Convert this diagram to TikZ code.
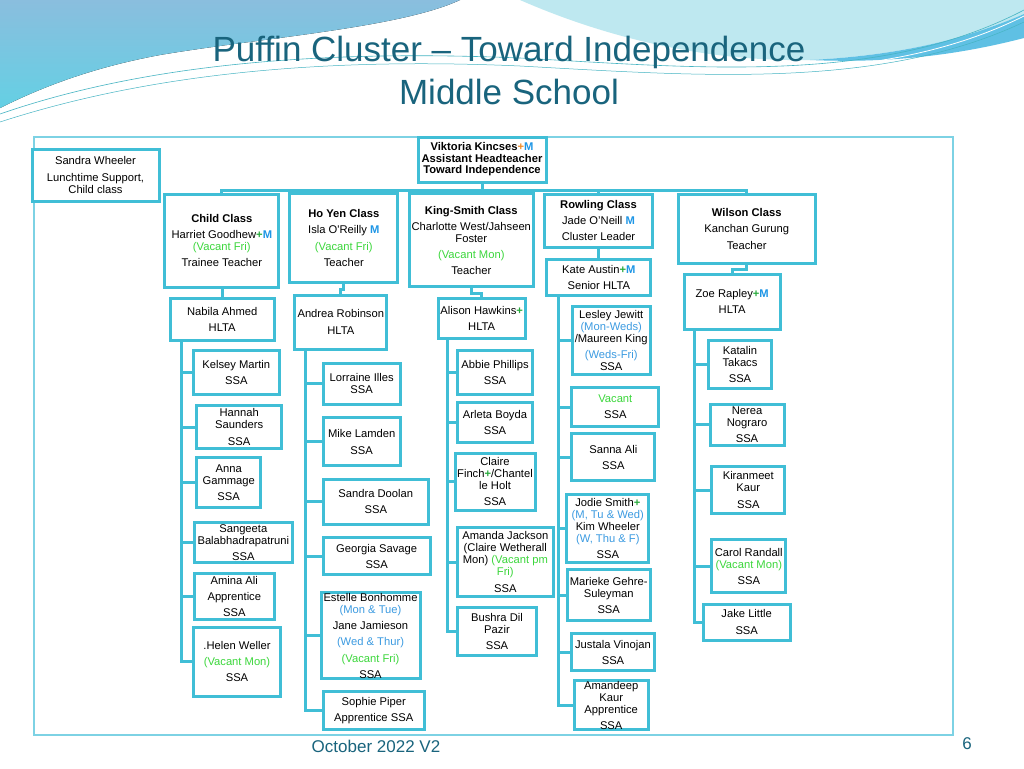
\documentclass[tikz,border=0pt]{standalone}
\usepackage{fontspec}
\setmainfont{Liberation Sans}

\definecolor{boxblue}{RGB}{64,190,214}
\definecolor{framecyan}{RGB}{125,210,228}
\definecolor{titleteal}{RGB}{25,100,125}
\definecolor{vacgreen}{RGB}{60,215,60}
\definecolor{dayblue}{RGB}{60,155,225}
\definecolor{mblue}{RGB}{30,150,230}
\definecolor{plusgreen}{RGB}{40,170,60}
\definecolor{plusorange}{RGB}{240,140,40}
\definecolor{wavetop}{RGB}{138,190,222}
\definecolor{wavelow}{RGB}{100,208,228}
\definecolor{wavelight}{RGB}{190,232,240}
\definecolor{waveblue}{RGB}{95,192,228}
\definecolor{waveline}{RGB}{70,180,195}

\newcommand{\vacnote}[1]{\textcolor{vacgreen}{#1}}
\newcommand{\daynote}[1]{\textcolor{dayblue}{#1}}
\newcommand{\plusmark}{\textbf{\textcolor{plusgreen}{+}}}
\newcommand{\mmark}{\textbf{\textcolor{mblue}{M}}}

\tikzstyle{link} = [draw=boxblue, line width=3pt, line cap=rect]
\tikzstyle{every post} = [draw=boxblue, line width=3pt, fill=white, inner sep=0pt, align=center, font=\fontsize{11.2}{12}\selectfont]
\tikzstyle{staff} = [rectangle, every post]
\tikzset{boxsize/.style 2 args={minimum width=#1pt, minimum height=#2pt}}

\begin{document}
\begin{tikzpicture}[x=1pt, y=-1pt, every edge/.style={link},
  drop/.style={to path={(\tikztostart) -- (\tikztostart |- \tikztotarget)}},
  tick/.style={to path={(\tikztostart) -- (\tikztostart -| \tikztotarget)}},
  jog/.style={to path={(\tikztostart) |- ([yshift=-5pt]\tikztotarget) -| (\tikztotarget)}}]

\useasboundingbox (0,0) rectangle (1024,768);
\fill[white] (0,0) rectangle (1024,768);

% Background waves

\fill[top color=wavetop, bottom color=wavelow] (0,0) -- (460,0) .. controls (400,28) and (260,38) .. (160,55) .. controls (90,68) and (40,88) .. (0,108) -- cycle;
\fill[wavelight] (520,0) -- (1024,0) -- (1024,14) .. controls (960,42) and (890,56) .. (810,60) .. controls (700,62) and (600,35) .. (520,0) -- cycle;
\fill[waveblue] (1024,14) .. controls (960,42) and (890,56) .. (810,60) .. controls (900,64) and (970,52) .. (1024,38) -- cycle;
\draw[waveline, line width=0.6pt] (0,114) .. controls (150,62) and (330,50) .. (520,58) .. controls (700,68) and (880,85) .. (1024,10);
\draw[white, line width=0.8pt] (0,118) .. controls (150,66) and (330,54) .. (520,62) .. controls (700,72) and (880,88) .. (1024,16);
\draw[waveline, line width=0.5pt] (0,122) .. controls (160,70) and (340,58) .. (520,66) .. controls (700,76) and (880,90) .. (1024,22);

% Title

\node[font=\fontsize{35}{42}\selectfont, text=titleteal, anchor=base] (title) at (509,62) {Puffin Cluster -- Toward Independence};
\node[font=\fontsize{35}{42}\selectfont, text=titleteal, anchor=base] (subtitle) at (509,104) {Middle School};

\draw[framecyan, line width=1.5pt] (34,137) rectangle (953,735);

% Head of department

\coordinate (bus) at (482,190);

\node[staff, boxsize={128}{45}, font=\fontsize{11.2}{11.5}\selectfont\bfseries] (viktoria) at (482,159.5) {Viktoria Kincses\textcolor{plusorange}{+}\textcolor{mblue}{M}\\Assistant Headteacher\\Toward Independence} edge[drop] (bus);

\node[staff, boxsize={127}{52}] (swheeler) at (95.5,175) {Sandra Wheeler\\[5pt]Lunchtime Support,\\Child class};

% Classes

\node[staff, boxsize={114}{93}] (childcl) at (221.8,240.5) {\textbf{Child Class}\\[4pt]Harriet Goodhew\plusmark\mmark\\\vacnote{(Vacant Fri)}\\[4pt]Trainee Teacher} edge[drop] (bus);

\node[staff, boxsize={108}{89}] (hoyen) at (343.8,238.3) {\textbf{Ho Yen Class}\\[4pt]Isla O\textquotesingle Reilly \mmark\\[5pt]\vacnote{(Vacant Fri)}\\[4pt]Teacher} edge[drop] (bus);

\node[staff, boxsize={124}{93}] (kingsmith) at (471.3,240.3) {\textbf{King-Smith Class}\\[4pt]Charlotte West/Jahseen\\Foster\\[4pt]\vacnote{(Vacant Mon)}\\[4pt]Teacher} edge[drop] (bus);

\node[staff, boxsize={108}{53}] (rowling) at (598.5,220.7) {\textbf{Rowling Class}\\[4pt]Jade O'Neill \mmark\\[4pt]Cluster Leader} edge[drop] (bus);

\node[staff, boxsize={137}{69}] (wilson) at (746.7,228.8) {\textbf{Wilson Class}\\[4pt]Kanchan Gurung\\[5pt]Teacher} edge[drop] (bus);

\draw[link] (childcl.north |- bus) -- (wilson.north |- bus);

% Child Class team

\node[staff, boxsize={104}{42}] (nabila) at (222.2,319.5) {Nabila Ahmed\\[4pt]HLTA} edge[drop] (childcl.south);
\coordinate (nabspine) at (181,341);

\node[staff, boxsize={86}{44}] (kelsey) at (236.3,372.5) {Kelsey Martin\\[4pt]SSA} edge[tick] (nabspine);
\node[staff, boxsize={85}{43}] (hannah) at (239.2,427) {Hannah\\Saunders\\[5pt]SSA} edge[tick] (nabspine);
\node[staff, boxsize={64}{50}] (anna) at (228.7,482.5) {Anna\\Gammage\\[4pt]SSA} edge[tick] (nabspine);
\node[staff, boxsize={98}{40}] (sangeeta) at (243.3,542.3) {Sangeeta\\Balabhadrapatruni\\[4pt]SSA} edge[tick] (nabspine);
\node[staff, boxsize={80}{46}] (amina) at (234.3,596.3) {Amina Ali\\[4pt]Apprentice\\[4pt]SSA} edge[tick] (nabspine);
\node[staff, boxsize={87}{69}] (helen) at (237,661.7) {.Helen Weller\\[4pt]\vacnote{(Vacant Mon)}\\[4pt]SSA} edge[tick] (nabspine);

\draw[link] (nabspine) -- (nabspine |- helen);

% Ho Yen Class team

\node[staff, boxsize={92}{54}] (andrea) at (340.8,322) {Andrea Robinson\\[5pt]HLTA} edge[jog] (hoyen.south);
\coordinate (andspine) at (305,349);

\node[staff, boxsize={77}{41}] (lorraine) at (361.7,383.7) {Lorraine Illes\\SSA} edge[tick] (andspine);
\node[staff, boxsize={77}{48}] (mike) at (361.7,441.8) {Mike Lamden\\[5pt]SSA} edge[tick] (andspine);
\node[staff, boxsize={105}{45}] (sdoolan) at (375.8,501.5) {Sandra Doolan\\[4pt]SSA} edge[tick] (andspine);
\node[staff, boxsize={107}{37}] (georgia) at (376.7,556.3) {Georgia Savage\\[4pt]SSA} edge[tick] (andspine);
\node[staff, boxsize={99}{86}] (estelle) at (370.5,635.5) {Estelle Bonhomme\\\daynote{(Mon \& Tue)}\\[4pt]Jane Jamieson\\[4pt]\daynote{(Wed \& Thur)}\\[5pt]\vacnote{(Vacant Fri)}\\[4pt]SSA} edge[tick] (andspine);
\node[staff, boxsize={101}{38}] (sophie) at (373.7,710.8) {Sophie Piper\\[4pt]Apprentice SSA} edge[tick] (andspine);

\draw[link] (andspine) -- (andspine |- sophie);

% King-Smith Class team

\node[staff, boxsize={87}{40}] (alison) at (481.7,318.3) {Alison Hawkins\plusmark\\[4pt]HLTA} edge[jog] (kingsmith.south);
\coordinate (alispine) at (447.5,338);

\node[staff, boxsize={75}{44}] (abbie) at (495,372.2) {Abbie Phillips\\[4pt]SSA} edge[tick] (alispine);
\node[staff, boxsize={75}{40}] (arleta) at (495,422.5) {Arleta Boyda\\[4pt]SSA} edge[tick] (alispine);
\node[staff, boxsize={80}{57}] (claire) at (495,481.7) {Claire\\Finch\plusmark/Chantel\\le Holt\\[4pt]SSA} edge[tick] (alispine);
\node[staff, boxsize={96}{69}] (amanda) at (505.3,562.2) {Amanda Jackson\\(Claire Wetherall\\Mon) \vacnote{(Vacant pm}\\\vacnote{Fri)}\\[5pt]SSA} edge[tick] (alispine);
\node[staff, boxsize={79}{48}] (bushra) at (497,631.7) {Bushra Dil\\Pazir\\[4pt]SSA} edge[tick] (alispine);

\draw[link] (alispine) -- (alispine |- bushra);

% Rowling Class team

\node[staff, boxsize={104}{36}] (kate) at (598.8,277) {Kate Austin\plusmark\mmark\\[4pt]Senior HLTA} edge[drop] (rowling.south);
\coordinate (katespine) at (558,295);

\node[staff, boxsize={78}{68}] (lesley) at (611.2,340.2) {Lesley Jewitt\\\daynote{(Mon-Weds)}\\/Maureen King\\[4pt]\daynote{(Weds-Fri)}\\SSA} edge[tick] (katespine);
\node[staff, boxsize={87}{39}] (vacant) at (615.3,407) {\vacnote{Vacant}\\[4pt]SSA} edge[tick] (katespine);
\node[staff, boxsize={83}{47}] (sanna) at (613.3,457) {Sanna Ali\\[4pt]SSA} edge[tick] (katespine);
\node[staff, boxsize={82}{68}] (jodie) at (607.8,528.8) {Jodie Smith\plusmark\\\daynote{(M, Tu \& Wed)}\\Kim Wheeler\\\daynote{(W, Thu \& F)}\\[4pt]SSA} edge[tick] (katespine);
\node[staff, boxsize={83}{51}] (marieke) at (608.7,595.3) {Marieke Gehre-\\Suleyman\\[4pt]SSA} edge[tick] (katespine);
\node[staff, boxsize={83}{37}] (justala) at (613,652) {Justala Vinojan\\[4pt]SSA} edge[tick] (katespine);
\node[staff, boxsize={74}{49}] (amandeep) at (611.2,705.3) {Amandeep\\Kaur\\Apprentice\\[4pt]SSA} edge[tick] (katespine);

\draw[link] (katespine) -- (katespine |- amandeep);

% Wilson Class team

\node[staff, boxsize={96}{55}] (zoe) at (732.2,301.8) {Zoe Rapley\plusmark\mmark\\[4pt]HLTA} edge[jog] (wilson.south);
\coordinate (zoespine) at (694,329);

\node[staff, boxsize={63}{48}] (katalin) at (740,364.2) {Katalin\\Takacs\\[4pt]SSA} edge[tick] (zoespine);
\node[staff, boxsize={74}{41}] (nerea) at (747,424.5) {Nerea\\Nograro\\[4pt]SSA} edge[tick] (zoespine);
\node[staff, boxsize={73}{47}] (kiranmeet) at (748.3,490) {Kiranmeet\\Kaur\\[5pt]SSA} edge[tick] (zoespine);
\node[staff, boxsize={74}{53}] (carol) at (748.8,566) {Carol Randall\\\vacnote{(Vacant Mon)}\\[4pt]SSA} edge[tick] (zoespine);
\node[staff, boxsize={87}{36}] (jake) at (746.7,622) {Jake Little\\[5pt]SSA} edge[tick] (zoespine);

\draw[link] (zoespine) -- (zoespine |- jake);

% Footer

\node[font=\fontsize{17}{20}\selectfont, text=titleteal, anchor=base] (date) at (376,752) {October 2022 V2};
\node[font=\fontsize{17}{20}\selectfont, text=titleteal, anchor=base] (pageno) at (967,749) {6};

\end{tikzpicture}
\end{document}
